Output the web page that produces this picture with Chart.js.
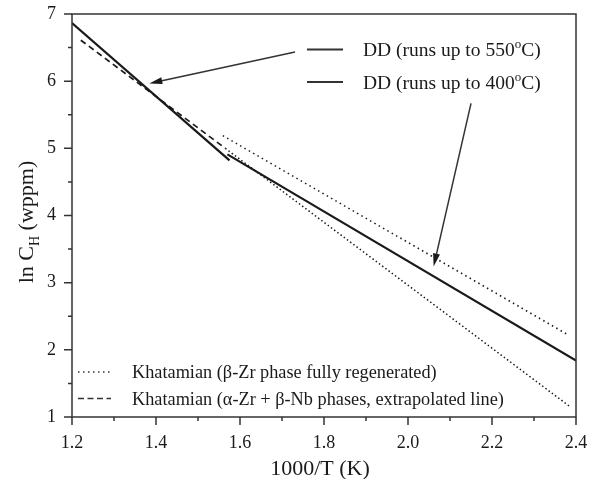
<!DOCTYPE html>
<html>
<head>
<meta charset="utf-8">
<script src="https://cdn.jsdelivr.net/npm/chart.js@4.4.0/dist/chart.umd.min.js"></script>
<style>
  html, body { margin: 0; padding: 0; background: #fff; }
</style>
</head>
<body>
<canvas id="hydrogenChart" width="598" height="479"></canvas>
<script>
/*
  ln C_H vs 1000/T - DD runs compared with Khatamian lines.
*/
const dd550X = [1.2, 1.575];
const dd550Y = [6.865, 4.82];
const dd400X = [1.57, 2.4];
const dd400Y = [4.91, 1.84];
const khatBetaX = [1.559, 2.383];
const khatBetaY = [5.19, 2.217];
const khatBetaLowX = [1.565, 2.385];
const khatBetaLowY = [5.0, 1.157];
const khatAlphaX = [1.221, 1.565];
const khatAlphaY = [6.61, 5.0];

// arrows: [tailX, tailY, tipX, tipY] in data units
const arrows = [
  [1.731, 6.435, 1.384, 5.966],
  [2.150, 5.669, 2.061, 3.241],
];

const xTicks = [1.2, 1.4, 1.6, 1.8, 2.0, 2.2, 2.4];
const yTicks = [1, 2, 3, 4, 5, 6, 7];

const SERIF = "'Liberation Serif', 'Times New Roman', serif";
const INK = "#1a1a1a";

function toPoints(xs, ys) {
  return xs.map((x, i) => ({ x: x, y: ys[i] }));
}

function lineSet(label, xs, ys, width, dash) {
  return {
    label: label,
    data: toPoints(xs, ys),
    showLine: true,
    borderColor: INK,
    borderWidth: width,
    borderDash: dash,
    pointRadius: 0,
    fill: false,
  };
}

// draws text made of pieces, some sub- or superscript
function richText(ctx, x, y, parts, size, align) {
  const widths = parts.map((p) => {
    ctx.font = (p.s ? Math.round(size * 0.65) : size) + "px " + SERIF;
    return ctx.measureText(p.t).width;
  });
  const total = widths.reduce((a, b) => a + b, 0);
  let cx = align === "center" ? x - total / 2 : x;
  ctx.textBaseline = "alphabetic";
  ctx.textAlign = "left";
  parts.forEach((p, i) => {
    ctx.font = (p.s ? Math.round(size * 0.65) : size) + "px " + SERIF;
    let dy = 0;
    if (p.s === "sub") dy = size * 0.25;
    if (p.s === "sup") dy = -size * 0.4;
    ctx.fillText(p.t, cx, y + dy);
    cx += widths[i];
  });
}

function arrow(ctx, x1, y1, x2, y2) {
  const ang = Math.atan2(y2 - y1, x2 - x1);
  const len = 13, half = 3.5;
  const bx = x2 - len * Math.cos(ang), by = y2 - len * Math.sin(ang);
  ctx.beginPath();
  ctx.moveTo(x1, y1);
  ctx.lineTo(bx, by);
  ctx.stroke();
  ctx.beginPath();
  ctx.moveTo(x2, y2);
  ctx.lineTo(bx + half * Math.sin(ang), by - half * Math.cos(ang));
  ctx.lineTo(bx - half * Math.sin(ang), by + half * Math.cos(ang));
  ctx.closePath();
  ctx.fill();
}

const framePlugin = {
  id: "frame",
  afterDraw(chart) {
    const ctx = chart.ctx;
    const a = chart.chartArea;
    const xs = chart.scales.x, ys = chart.scales.y;
    ctx.save();
    ctx.strokeStyle = "#333";
    ctx.fillStyle = INK;
    ctx.lineWidth = 1.5;
    ctx.strokeRect(a.left, a.top, a.right - a.left, a.bottom - a.top);

    // ticks, major and minor, pointing outward
    ctx.beginPath();
    for (let v = 1.2; v <= 2.401; v += 0.1) {
      const px = xs.getPixelForValue(v);
      const major = Math.abs(Math.round(v * 10) % 2) === 0;
      ctx.moveTo(px, a.bottom);
      ctx.lineTo(px, a.bottom + (major ? 8 : 4));
    }
    for (let v = 1; v <= 7.001; v += 0.5) {
      const py = ys.getPixelForValue(v);
      const major = Math.abs(v - Math.round(v)) < 0.01;
      ctx.moveTo(a.left, py);
      ctx.lineTo(a.left - (major ? 8 : 4), py);
    }
    ctx.stroke();

    // axis titles
    richText(ctx, (a.left + a.right) / 2 - 4, 475, [{ t: "1000/T (K)" }], 22, "center");
    ctx.save();
    ctx.translate(33, 222);
    ctx.rotate(-Math.PI / 2);
    richText(ctx, 0, 0, [{ t: "ln C" }, { t: "H", s: "sub" }, { t: " (wppm)" }], 22, "center");
    ctx.restore();

    // in-plot keys, upper right
    ctx.setLineDash([]);
    ctx.lineWidth = 2.2;
    [49.5, 82].forEach((y) => {
      ctx.beginPath();
      ctx.moveTo(307, y);
      ctx.lineTo(343, y);
      ctx.stroke();
    });
    richText(ctx, 363, 56, [{ t: "DD (runs up to 550" }, { t: "o", s: "sup" }, { t: "C)" }], 19.5, "left");
    richText(ctx, 363, 88.5, [{ t: "DD (runs up to 400" }, { t: "o", s: "sup" }, { t: "C)" }], 19.5, "left");

    // in-plot keys, lower left
    ctx.lineWidth = 1.3;
    ctx.setLineDash([1.5, 3.5]);
    ctx.beginPath();
    ctx.moveTo(78, 372);
    ctx.lineTo(111, 372);
    ctx.stroke();
    ctx.setLineDash([6, 3.5]);
    ctx.beginPath();
    ctx.moveTo(78, 398.5);
    ctx.lineTo(111, 398.5);
    ctx.stroke();
    ctx.setLineDash([]);
    richText(ctx, 132, 378, [{ t: "Khatamian (\u03b2-Zr phase fully regenerated)" }], 18.3, "left");
    richText(ctx, 132, 404.5, [{ t: "Khatamian (\u03b1-Zr + \u03b2-Nb phases, extrapolated line)" }], 18.3, "left");

    // arrows
    ctx.lineWidth = 1.5;
    arrows.forEach((r) => {
      arrow(ctx, xs.getPixelForValue(r[0]), ys.getPixelForValue(r[1]),
        xs.getPixelForValue(r[2]), ys.getPixelForValue(r[3]));
    });
    ctx.restore();
  },
};

new Chart(document.getElementById("hydrogenChart"), {
  type: "scatter",
  data: {
    datasets: [
      lineSet("DD (runs up to 550°C)", dd550X, dd550Y, 2.2, []),
      lineSet("DD (runs up to 400°C)", dd400X, dd400Y, 2.2, []),
      lineSet("Khatamian (β-Zr phase fully regenerated)", khatBetaX, khatBetaY, 1.5, [1.5, 3.5]),
      lineSet("Khatamian (β-Zr phase fully regenerated)", khatBetaLowX, khatBetaLowY, 1.5, [1.5, 2.5]),
      lineSet("Khatamian (α-Zr + β-Nb phases, extrapolated line)", khatAlphaX, khatAlphaY, 1.7, [6, 4]),
    ],
  },
  plugins: [framePlugin],
  options: {
    responsive: false,
    animation: false,
    devicePixelRatio: 1,
    layout: { padding: { top: 14, right: 22, left: 0, bottom: 0 } },
    plugins: { legend: { display: false }, tooltip: { enabled: false } },
    scales: {
      x: {
        type: "linear",
        min: 1.2,
        max: 2.4,
        afterBuildTicks: (scale) => { scale.ticks = xTicks.map((v) => ({ value: v })); },
        afterFit: (scale) => {
          scale.height = 62;
          scale.paddingLeft = 0;
          scale.paddingRight = 0;
        },
        grid: { display: false, drawTicks: false },
        border: { display: false },
        ticks: {
          padding: 15,
          color: INK,
          font: { family: SERIF, size: 18 },
          callback: (v) => Number(v).toFixed(1),
        },
      },
      y: {
        type: "linear",
        min: 1,
        max: 7,
        afterBuildTicks: (scale) => { scale.ticks = yTicks.map((v) => ({ value: v })); },
        afterFit: (scale) => {
          scale.width = 72;
          scale.paddingTop = 0;
          scale.paddingBottom = 0;
        },
        grid: { display: false, drawTicks: false },
        border: { display: false },
        ticks: {
          padding: 16,
          color: INK,
          font: { family: SERIF, size: 18 },
          callback: (v) => String(v),
        },
      },
    },
  },
});
</script>
</body>
</html>
